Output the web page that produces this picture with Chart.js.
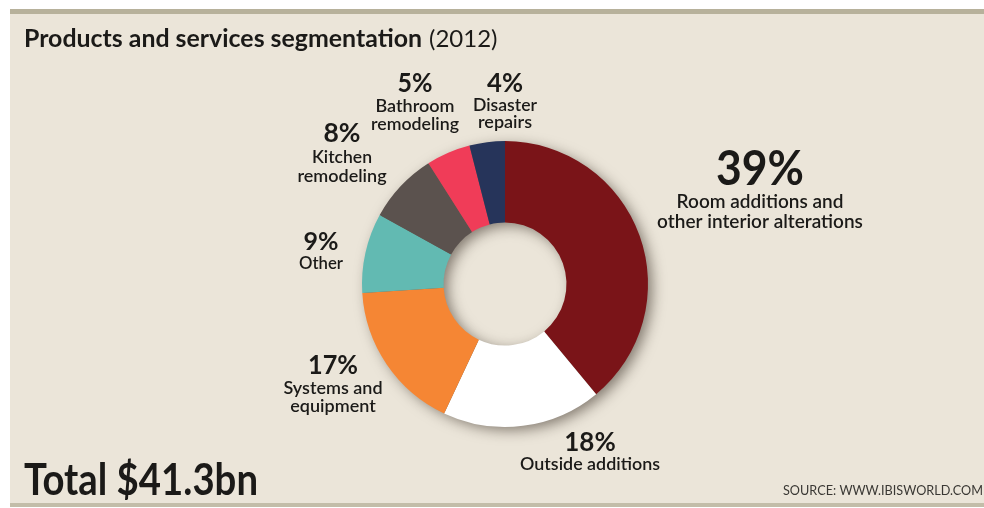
<!DOCTYPE html>
<html>
<head>
<meta charset="utf-8">
<script src="https://cdn.jsdelivr.net/npm/chart.js@4"></script>
<style>
  html, body { margin: 0; padding: 0; background: #ffffff; }
  #panel {
    position: absolute; left: 10px; top: 9px; width: 974px; height: 489px;
    background: #ebe5d9;
    border-top: 5px solid #b7b19b;
    border-bottom: 4px solid #c3bda9;
  }
  #wrap { position: absolute; left: 0; top: 0; width: 984px; height: 508px; }
</style>
</head>
<body>
<div id="panel"></div>
<div id="wrap"><canvas id="chart" width="984" height="508"></canvas></div>
<script>
// Products and services segmentation (2012), share of revenue in %
const categories = [
  'Room additions and other interior alterations',
  'Outside additions',
  'Systems and equipment',
  'Other',
  'Kitchen remodeling',
  'Bathroom remodeling',
  'Disaster repairs'
];
const shares = [39, 18, 17, 9, 8, 5, 4];
const sliceColors = ['#7a1418', '#ffffff', '#f58634', '#62bab2', '#5b524e', '#f03c58', '#26345a'];

const FONT = 'Lato, "Open Sans", sans-serif';

// label layout: anchor centre x, first baseline y, per-line max widths
const labelLayout = [
  { x: 760, y: 185, pct: 48, sub: 19, gap: 23, lh: 20, w: [88, 170, 208] },
  { x: 590, y: 451, pct: 26, sub: 18, gap: 19, lh: 19, w: [52, 140] },
  { x: 333, y: 374, pct: 27, sub: 18, gap: 20, lh: 18, w: [50, 100, 93] },
  { x: 321, y: 250, pct: 25, sub: 18, gap: 19, lh: 19, w: [38, 44] },
  { x: 342, y: 142, pct: 27, sub: 18, gap: 21, lh: 19, w: [37, 60, 90] },
  { x: 415, y: 92, pct: 27, sub: 18, gap: 20, lh: 18, w: [35, 80, 88] },
  { x: 505, y: 92, pct: 27, sub: 18, gap: 19, lh: 17, w: [36, 64, 55] }
];
const labelLines = [
  ['Room additions and', 'other interior alterations'],
  ['Outside additions'],
  ['Systems and', 'equipment'],
  ['Other'],
  ['Kitchen', 'remodeling'],
  ['Bathroom', 'remodeling'],
  ['Disaster', 'repairs']
];

function text(ctx, str, x, y, font, align, maxW) {
  ctx.font = font;
  ctx.textAlign = align;
  ctx.textBaseline = 'alphabetic';
  if (maxW) ctx.fillText(str, x, y, maxW);
  else ctx.fillText(str, x, y);
}

const ringShadow = {
  id: 'ringShadow',
  beforeDatasetsDraw(chart) {
    const arc = chart.getDatasetMeta(0).data[0];
    if (!arc) return;
    const { x, y, outerRadius, innerRadius } = arc.getProps(['x', 'y', 'outerRadius', 'innerRadius'], true);
    const ctx = chart.ctx;
    ctx.save();
    ctx.beginPath();
    ctx.arc(x, y, outerRadius - 1, 0, Math.PI * 2);
    ctx.arc(x, y, innerRadius + 1, 0, Math.PI * 2, true);
    ctx.shadowColor = 'rgba(40,30,20,0.55)';
    ctx.shadowBlur = 14;
    ctx.shadowOffsetX = 5;
    ctx.shadowOffsetY = 4;
    ctx.fillStyle = '#6b6355';
    ctx.fill();
    ctx.restore();
  }
};

const annotations = {
  id: 'annotations',
  afterDraw(chart) {
    const ctx = chart.ctx;
    ctx.save();
    ctx.fillStyle = '#1b1a18';
    text(ctx, 'Products and services segmentation', 24, 47, 'bold 25px ' + FONT, 'left', 398);
    const tw = Math.min(ctx.measureText('Products and services segmentation').width, 398);
    text(ctx, '(2012)', 24 + tw + 7, 47, '24px ' + FONT, 'left', 72);
    text(ctx, 'Total $41.3bn', 24, 495, 'bold 44px ' + FONT, 'left', 234);
    ctx.fillStyle = '#3a3834';
    text(ctx, 'SOURCE: WWW.IBISWORLD.COM', 983, 495, '13px ' + FONT, 'right', 200);
    ctx.fillStyle = '#1b1a18';
    shares.forEach((v, i) => {
      const L = labelLayout[i];
      text(ctx, v + '%', L.x, L.y, 'bold ' + L.pct + 'px ' + FONT, 'center', L.w[0]);
      labelLines[i].forEach((line, j) => {
        text(ctx, line, L.x, L.y + L.gap + j * L.lh, '600 ' + L.sub + 'px ' + FONT, 'center', L.w[j + 1]);
      });
    });
    ctx.restore();
  }
};

new Chart(document.getElementById('chart'), {
  type: 'doughnut',
  data: {
    labels: categories,
    datasets: [{
      data: shares,
      backgroundColor: sliceColors,
      borderWidth: 0,
      hoverOffset: 0
    }]
  },
  options: {
    responsive: false,
    animation: false,
    cutout: '43%',
    rotation: 0,
    layout: { padding: { left: 362, right: 336, top: 141, bottom: 81 } },
    plugins: {
      legend: { display: false },
      tooltip: { enabled: false }
    }
  },
  plugins: [ringShadow, annotations]
});
</script>
</body>
</html>
